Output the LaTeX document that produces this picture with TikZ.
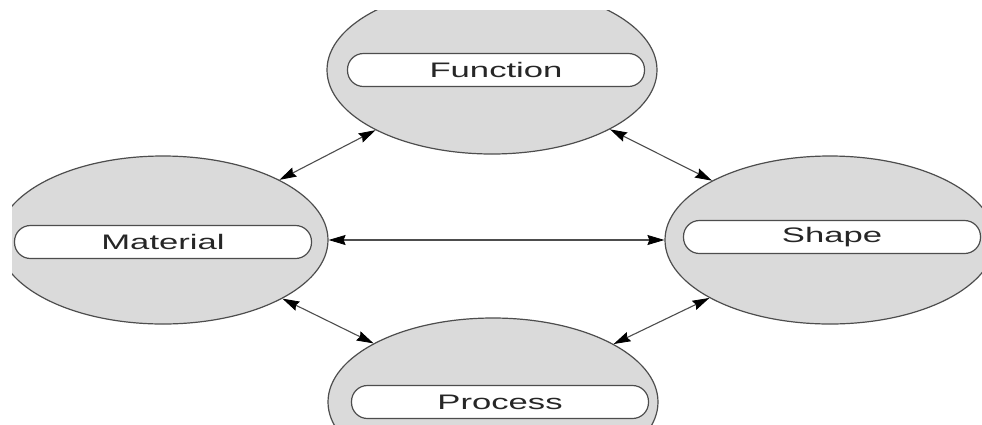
\documentclass[tikz,border=0pt]{standalone}
\usepackage{fontspec}
\setmainfont{Liberation Sans}
\usetikzlibrary{shapes.geometric,arrows.meta}
\definecolor{linegray}{HTML}{4D4D4D}
\definecolor{discgray}{HTML}{DADADA}
\definecolor{textgray}{HTML}{262626}
\tikzset{head/.tip={Stealth[length=17pt,width=10pt,inset=2pt,fill=black,color=black,line width=0.8pt]}}
\begin{document}
\begin{tikzpicture}[x=1pt,y=-1pt,
  disc/.style={ellipse,draw=linegray,fill=discgray,line width=1.2pt,
    minimum width=330pt,minimum height=168pt,inner sep=0pt},
  pill/.style={rectangle,rounded corners=16pt,draw=linegray,fill=white,
    line width=1.2pt,minimum width=297pt,minimum height=33pt,inner sep=0pt,
    text=textgray,font=\fontsize{21}{21}\selectfont},
  link/.style={draw=linegray,line width=1.1pt,{head}-{head}}]
\useasboundingbox (0,0) rectangle (982,424);
\begin{scope}
  \clip (12,10) rectangle (982,424);
  % the four property discs
  \node[disc] (fun) at (492,70) {};
  \node[disc] (mat) at (163,240) {};
  \node[disc] (shp) at (830,240) {};
  \node[disc] (pro) at (493,402) {};
  % labels
  \node[pill] (funl) at (496,70) {\scalebox{1.65}[1]{Function}};
  \node[pill] (matl) at (163,242) {\scalebox{1.65}[1]{Material}};
  \node[pill] (shpl) at (832,237) {\scalebox{1.65}[1]{Shape}};
  \node[pill] (prol) at (500,402) {\scalebox{1.65}[1]{Process}};
  % two-way links
  \draw[link] (mat) -- (fun);
  \draw[link] (fun) -- (shp);
  \draw[link] (mat) -- (shp);
  \draw[link] (mat) -- (pro);
  \draw[link] (pro) -- (shp);
\end{scope}
\end{tikzpicture}
\end{document}
